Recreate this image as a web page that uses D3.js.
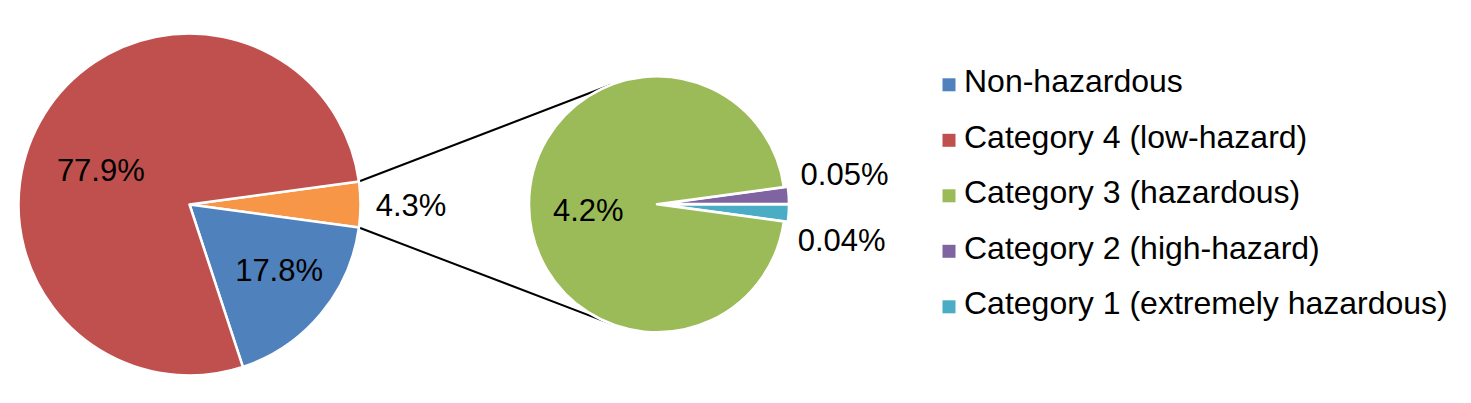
<!DOCTYPE html>
<html><head><meta charset="utf-8">
<script src="https://cdn.jsdelivr.net/npm/d3@7"></script>
<style>html,body{margin:0;padding:0;background:#fff;} svg{display:block;font-family:"Liberation Sans",Arial,sans-serif;}</style>
</head><body><svg id="chart" width="1471" height="403"></svg>
<script>
// ---- data ----
const mainCategories = ["Other (split)", "Non-hazardous", "Category 4 (low-hazard)"];
const mainValues = [4.3, 17.8, 77.9];
const mainLabels = ["4.3%", "17.8%", "77.9%"];
const subCategories = ["Category 2 (high-hazard)", "Category 1 (extremely hazardous)", "Category 3 (hazardous)"];
const subValues = [0.05, 0.04, 4.2];
const subLabels = ["0.05%", "0.04%", "4.2%"];
const legendItems = ["Non-hazardous", "Category 4 (low-hazard)", "Category 3 (hazardous)", "Category 2 (high-hazard)", "Category 1 (extremely hazardous)"];

// ---- styles / layout ----
const color = d3.scaleOrdinal()
  .domain(["Other (split)", "Non-hazardous", "Category 4 (low-hazard)", "Category 3 (hazardous)", "Category 2 (high-hazard)", "Category 1 (extremely hazardous)"])
  .range(["#F79646", "#4F81BD", "#C0504D", "#9BBB59", "#8064A2", "#4BACC6"]);
const L = {
  main: {cx: 189.5, cy: 204.5, r: 171},
  sub: {cx: 657, cy: 204.3, r: 128, explode: 4, minShare: 0.022},
  labelFont: 31, legendFont: 32,
  mainLabel: [{r: 221.5, nudge: 0}, {r: 111, nudge: -3.6}, {r: 95, nudge: -11}],
  subLabel: [{r: 190, nudge: -5.4}, {r: 188, nudge: 7}, {r: 69, nudge: -5}],
  legend: {x: 942.5, textX: 964, y0: 92.3, step: 55.5, box: 13}
};
const deg = Math.PI / 180;
const svg = d3.select("#chart");

// ---- main pie ----
const mainTotal = d3.sum(mainValues);
const splitAngle = mainValues[0] / mainTotal * 2 * Math.PI;
const mainStart = Math.PI / 2 - splitAngle / 2;
const mainPie = d3.pie().sort(null).value(d => d.v).startAngle(mainStart).endAngle(mainStart + 2 * Math.PI);
const mainArcs = mainPie(mainCategories.map((c, i) => ({c, v: mainValues[i], label: mainLabels[i]})));
const arcMain = d3.arc().innerRadius(0).outerRadius(L.main.r);

// ---- sub pie ----
const subTotal = d3.sum(subValues);
const weights = subValues.map(v => Math.max(v, L.sub.minShare * subTotal));
const wTotal = d3.sum(weights);
const firstAngle = weights[0] / wTotal * 2 * Math.PI;
const subStart = Math.PI / 2 - firstAngle;
const subPie = d3.pie().sort(null).value(d => d.w).startAngle(subStart).endAngle(subStart + 2 * Math.PI);
const subArcs = subPie(subCategories.map((c, i) => ({c, v: subValues[i], w: weights[i], label: subLabels[i]})));
const arcSub = d3.arc().innerRadius(0).outerRadius(L.sub.r);

// ---- connector lines (tangents from split slice corners to second pie) ----
const split = mainArcs[0];
function pt(cx, cy, r, a) { return [cx + r * Math.sin(a), cy - r * Math.cos(a)]; }
function tangent(P, C, r, sign) {
  const dx = P[0] - C[0], dy = P[1] - C[1];
  const d = Math.hypot(dx, dy);
  const phi = Math.atan2(dy, dx), al = Math.acos(r / d);
  const t = phi + sign * al;
  return [C[0] + r * Math.cos(t), C[1] + r * Math.sin(t)];
}
const pTop = pt(L.main.cx, L.main.cy, L.main.r, split.startAngle);
const pBot = pt(L.main.cx, L.main.cy, L.main.r, split.endAngle);
const C2 = [L.sub.cx, L.sub.cy];
const tTop = tangent(pTop, C2, L.sub.r, +1);
const tBot = tangent(pBot, C2, L.sub.r, -1);
svg.append("g").selectAll("line").data([[pTop, tTop], [pBot, tBot]]).join("line")
  .attr("x1", d => d[0][0]).attr("y1", d => d[0][1])
  .attr("x2", d => d[1][0]).attr("y2", d => d[1][1])
  .attr("stroke", "#000").attr("stroke-width", 2);

// draw main pie
const gMain = svg.append("g").attr("transform", `translate(${L.main.cx},${L.main.cy})`);
gMain.selectAll("path").data(mainArcs).join("path")
  .attr("d", arcMain).attr("fill", d => color(d.data.c))
  .attr("stroke", "#fff").attr("stroke-width", 2.5).attr("stroke-linejoin", "round");
gMain.selectAll("text").data(mainArcs).join("text")
  .attr("transform", (d, i) => {
    const a = (d.startAngle + d.endAngle) / 2 + L.mainLabel[i].nudge * deg;
    const p = pt(0, 0, L.mainLabel[i].r, a);
    return `translate(${p[0]},${p[1]})`;
  })
  .attr("text-anchor", "middle").attr("dy", "0.355em")
  .attr("font-size", L.labelFont).attr("fill", "#000")
  .text(d => d.data.label);

// draw sub pie
const gSub = svg.append("g").attr("transform", `translate(${L.sub.cx},${L.sub.cy})`);
gSub.selectAll("path").data(subArcs).join("path")
  .attr("d", arcSub).attr("fill", d => color(d.data.c))
  .attr("transform", (d, i) => {
    if (i === subArcs.length - 1) return null;
    const a = (d.startAngle + d.endAngle) / 2;
    const p = pt(0, 0, L.sub.explode, a);
    return `translate(${p[0]},${p[1]})`;
  })
  .attr("stroke", "#fff").attr("stroke-width", 2.5).attr("stroke-linejoin", "round");
gSub.selectAll("text").data(subArcs).join("text")
  .attr("transform", (d, i) => {
    const a = (d.startAngle + d.endAngle) / 2 + L.subLabel[i].nudge * deg;
    const p = pt(0, 0, L.subLabel[i].r, a);
    return `translate(${p[0]},${p[1]})`;
  })
  .attr("text-anchor", "middle").attr("dy", "0.355em")
  .attr("font-size", L.labelFont).attr("fill", "#000")
  .text(d => d.data.label);

// legend
const gLeg = svg.append("g");
const rows = gLeg.selectAll("g").data(legendItems).join("g")
  .attr("transform", (d, i) => `translate(0,${L.legend.y0 + i * L.legend.step})`);
rows.append("rect").attr("x", L.legend.x).attr("y", -14).attr("width", L.legend.box).attr("height", L.legend.box)
  .attr("fill", d => color(d));
rows.append("text").attr("x", L.legend.textX).attr("y", 0)
  .attr("font-size", L.legendFont).attr("fill", "#000").text(d => d);
</script>
</body></html>
